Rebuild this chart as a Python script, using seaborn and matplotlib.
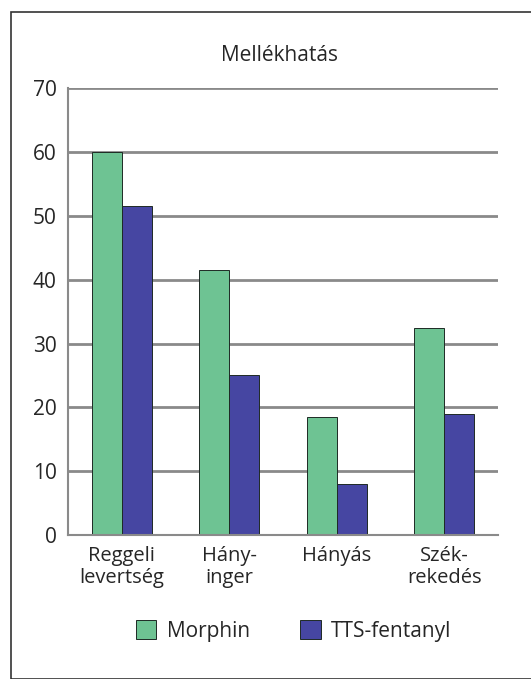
import pandas as pd
import seaborn as sns
import matplotlib.pyplot as plt
from matplotlib.patches import Rectangle

categories = ["Reggeli\nlevertség", "Hány-\ninger", "Hányás", "Szék-\nrekedés"]
morphin = [60, 41.5, 18.5, 32.5]
fentanyl = [51.5, 25, 8, 19]
series = ["Morphin", "TTS-fentanyl"]
colors = ["#6ec393", "#4646a2"]

df = pd.DataFrame({
    "kat": categories * 2,
    "ertek": morphin + fentanyl,
    "szer": [series[0]] * 4 + [series[1]] * 4,
})

sns.set_style("white")
plt.rcParams["font.family"] = ["Open Sans", "DejaVu Sans"]

fig = plt.figure(figsize=(5.31, 6.79), dpi=100)
fig.patches.append(Rectangle((11 / 531, 0), 1, 1 - 12 / 679, transform=fig.transFigure,
                             fill=False, edgecolor="#333333", linewidth=1.2))
ax = fig.add_axes([0.128, 0.212, 0.81, 0.658])

ax.yaxis.grid(True, color="#8a8a8a", linewidth=2)
ax.set_axisbelow(True)
sns.barplot(data=df, x="kat", y="ertek", hue="szer", palette=colors, saturation=1,
            width=0.56, gap=0, linewidth=0.7, ax=ax, legend=False)
for bar in ax.patches:
    bar.set_edgecolor("#1e2a24")

ax.set_ylim(0, 70)
ax.set_xlim(-0.5, 3.5)
ax.set_yticks(range(0, 71, 10))
ax.set_xlabel("")
ax.set_ylabel("")
ax.tick_params(axis="y", labelsize=15, length=5, color="#8a8a8a", width=1.5, pad=3)
ax.tick_params(axis="x", labelsize=14.5, length=0, pad=8)
for lbl in ax.get_xticklabels():
    lbl.set_linespacing(1.15)
ax.set_xticks([-0.5, 0.5, 1.5, 2.5, 3.5], minor=True)
ax.tick_params(axis="x", which="minor", length=5, color="#8a8a8a", width=1.5)
for side in ["top", "right"]:
    ax.spines[side].set_visible(False)
for side in ["left", "bottom"]:
    ax.spines[side].set_color("#8a8a8a")
    ax.spines[side].set_linewidth(1.5)

fig.text(0.526, 0.918, "Mellékhatás", ha="center", va="center", fontsize=15)

handles = [Rectangle((0, 0), 1, 1, facecolor=c, edgecolor="#1e2a24", linewidth=0.7) for c in colors]
fig.legend(handles, series, loc="center", bbox_to_anchor=(0.553, 0.071), ncol=2, frameon=False,
           fontsize=15, handlelength=1.0, handleheight=1.0, columnspacing=2.4, handletextpad=0.5)

fig.savefig("out.png", dpi=100)
